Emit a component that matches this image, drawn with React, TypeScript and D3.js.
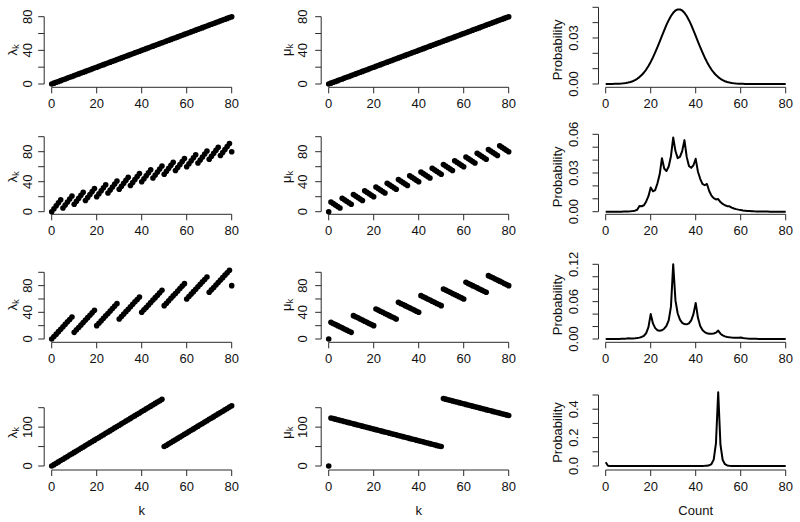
import React from 'react';
import * as d3 from 'd3';

// ---------- data ----------
const ks = [0,1,2,3,4,5,6,7,8,9,10,11,12,13,14,15,16,17,18,19,20,21,22,23,24,25,26,27,28,29,30,31,32,33,34,35,36,37,38,39,40,41,42,43,44,45,46,47,48,49,50,51,52,53,54,55,56,57,58,59,60,61,62,63,64,65,66,67,68,69,70,71,72,73,74,75,76,77,78,79,80];

const lam1 = [0,1,2,3,4,5,6,7,8,9,10,11,12,13,14,15,16,17,18,19,20,21,22,23,24,25,26,27,28,29,30,31,32,33,34,35,36,37,38,39,40,41,42,43,44,45,46,47,48,49,50,51,52,53,54,55,56,57,58,59,60,61,62,63,64,65,66,67,68,69,70,71,72,73,74,75,76,77,78,79,80];
const mu1 = [0,1,2,3,4,5,6,7,8,9,10,11,12,13,14,15,16,17,18,19,20,21,22,23,24,25,26,27,28,29,30,31,32,33,34,35,36,37,38,39,40,41,42,43,44,45,46,47,48,49,50,51,52,53,54,55,56,57,58,59,60,61,62,63,64,65,66,67,68,69,70,71,72,73,74,75,76,77,78,79,80];

const lam2 = [0,4,8,12,16, 5,9,13,17,21, 10,14,18,22,26, 15,19,23,27,31, 20,24,28,32,36, 25,29,33,37,41, 30,34,38,42,46, 35,39,43,47,51, 40,44,48,52,56, 45,49,53,57,61, 50,54,58,62,66, 55,59,63,67,71, 60,64,68,72,76, 65,69,73,77,81, 70,74,78,82,86, 75,79,83,87,91, 80];
const mu2 = [0, 13,11,9,7,5, 18,16,14,12,10, 23,21,19,17,15, 28,26,24,22,20, 33,31,29,27,25, 38,36,34,32,30, 43,41,39,37,35, 48,46,44,42,40, 53,51,49,47,45, 58,56,54,52,50, 63,61,59,57,55, 68,66,64,62,60, 73,71,69,67,65, 78,76,74,72,70, 83,81,79,77,75, 88,86,84,82,80];

const lam3 = [0,3.7,7.3,11,14.7,18.3,22,25.7,29.3,33, 10,13.7,17.3,21,24.7,28.3,32,35.7,39.3,43, 20,23.7,27.3,31,34.7,38.3,42,45.7,49.3,53, 30,33.7,37.3,41,44.7,48.3,52,55.7,59.3,63, 40,43.7,47.3,51,54.7,58.3,62,65.7,69.3,73, 50,53.7,57.3,61,64.7,68.3,72,75.7,79.3,83, 60,63.7,67.3,71,74.7,78.3,82,85.7,89.3,93, 70,73.7,77.3,81,84.7,88.3,92,95.7,99.3,103, 80];
const mu3 = [0, 25,23.3,21.7,20,18.3,16.7,15,13.3,11.7,10, 35,33.3,31.7,30,28.3,26.7,25,23.3,21.7,20, 45,43.3,41.7,40,38.3,36.7,35,33.3,31.7,30, 55,53.3,51.7,50,48.3,46.7,45,43.3,41.7,40, 65,63.3,61.7,60,58.3,56.7,55,53.3,51.7,50, 75,73.3,71.7,70,68.3,66.7,65,63.3,61.7,60, 85,83.3,81.7,80,78.3,76.7,75,73.3,71.7,70, 95,93.3,91.7,90,88.3,86.7,85,83.3,81.7,80];

const lam4 = [0,3.5,7,10.5,14,17.5,21,24.5,28,31.5,35,38.5,42,45.5,49,52.5,56,59.5,63,66.5,70,73.5,77,80.5,84,87.5,91,94.5,98,101.5,105,108.5,112,115.5,119,122.5,126,129.5,133,136.5,140,143.5,147,150.5,154,157.5,161,164.5,168,171.5, 50,53.5,57,60.5,64,67.5,71,74.5,78,81.5,85,88.5,92,95.5,99,102.5,106,109.5,113,116.5,120,123.5,127,130.5,134,137.5,141,144.5,148,151.5,155];
const mu4 = [0, 123.5,122,120.5,119,117.5,116,114.5,113,111.5,110, 108.5,107,105.5,104,102.5,101,99.5,98,96.5,95, 93.5,92,90.5,89,87.5,86,84.5,83,81.5,80, 78.5,77,75.5,74,72.5,71,69.5,68,66.5,65, 63.5,62,60.5,59,57.5,56,54.5,53,51.5,50, 173.5,172,170.5,169,167.5,166,164.5,163,161.5,160, 158.5,157,155.5,154,152.5,151,149.5,148,146.5,145, 143.5,142,140.5,139,137.5,136,134.5,133,131.5,130];

const counts = ks;
const prob1 = [0.00001,0.00002,0.00003,0.00005,0.00009,0.00013,0.0002,0.0003,0.00045,0.00065,0.00093,0.0013,0.0018,0.0025,0.0034,0.0045,0.0058,0.0075,0.0094,0.0117,0.0144,0.0173,0.0206,0.0241,0.0277,0.0314,0.035,0.0385,0.0416,0.0443,0.0464,0.0479,0.0486,0.0486,0.0479,0.0464,0.0443,0.0416,0.0385,0.035,0.0314,0.0277,0.0241,0.0206,0.0173,0.0144,0.0117,0.0094,0.0075,0.0058,0.0045,0.0034,0.0025,0.0018,0.0013,0.00093,0.00065,0.00045,0.0003,0.0002,0.00013,0.00009,0.00005,0.00003,0.00002,0.00001,0,0,0,0,0,0,0,0,0,0,0,0,0,0,0];
const prob2 = [0,0,0,0,0,0.00001,0.00002,0.00004,0.00007,0.0001,0.0002,0.0003,0.0005,0.0008,0.0015,0.0045,0.0042,0.005,0.008,0.012,0.0187,0.0158,0.0168,0.022,0.029,0.0415,0.0335,0.0315,0.035,0.043,0.0575,0.047,0.0415,0.0425,0.047,0.0555,0.0425,0.0355,0.034,0.036,0.041,0.031,0.0255,0.0215,0.0205,0.0215,0.016,0.0125,0.0105,0.0095,0.0098,0.0075,0.006,0.005,0.0043,0.0042,0.0032,0.0025,0.002,0.0016,0.0013,0.001,0.0008,0.0006,0.0005,0.0004,0.0003,0.00025,0.0002,0.00015,0.0001,0.00008,0.00006,0.00005,0.00004,0.00003,0.00002,0.00002,0.00001,0.00001,0.00001];
const prob3 = [0.0001,0.0001,0.0001,0.0001,0.0001,0.0002,0.0002,0.0003,0.0004,0.0006,0.0012,0.0008,0.0009,0.0012,0.0016,0.0022,0.0033,0.0052,0.0095,0.019,0.04,0.025,0.0175,0.014,0.0132,0.014,0.0165,0.021,0.03,0.052,0.12,0.062,0.041,0.031,0.026,0.024,0.0235,0.025,0.03,0.04,0.058,0.034,0.021,0.0145,0.011,0.0092,0.0084,0.0083,0.0088,0.0102,0.0135,0.0085,0.0058,0.0042,0.0033,0.0027,0.0023,0.0021,0.002,0.0021,0.0024,0.0015,0.001,0.0007,0.0005,0.0004,0.0003,0.00025,0.0002,0.0002,0.0002,0.00012,0.0001,0.00008,0.00006,0.00005,0.00004,0.00003,0.00003,0.00002,0.00002];
const prob4 = [0.026,0.002,0.0005,0.0003,0.0002,0.0002,0.0002,0.0001,0.0001,0.0001,0.0001,0.0001,0.0001,0.0001,0.0001,0.0001,0.0001,0.0001,0.0001,0.0001,0.0001,0.0001,0.0001,0.0001,0.0001,0.0001,0.0001,0.0001,0.0001,0.0001,0.0001,0.0001,0.0001,0.0001,0.0001,0.0001,0.0001,0.0001,0.0001,0.0001,0.0002,0.0002,0.0003,0.0005,0.001,0.002,0.005,0.014,0.045,0.16,0.52,0.15,0.042,0.013,0.004,0.0015,0.0005,0.0002,0.0001,0.0001,0.0001,0.0001,0.0001,0.0001,0.0001,0.0001,0.0001,0.0001,0.0001,0.0001,0.0001,0.0001,0.0001,0.0001,0.0001,0.0001,0.0001,0.0001,0.0001,0.0001,0.0001];

const xTicks = [0, 20, 40, 60, 80];
const rateTicks = [[0,20,40,60,80],[0,20,40,60,80,100],[0,20,40,60,80,100],[0,50,100,150]];
const rateLabels = [[0,40,80],[0,40,80],[0,40,80],[0,100]];
const probTicks = [[0,0.01,0.02,0.03,0.04,0.05],[0,0.01,0.02,0.03,0.04,0.05,0.06],[0,0.02,0.04,0.06,0.08,0.1,0.12],[0,0.1,0.2,0.3,0.4,0.5]];
const probLabels = [[0,0.03],[0,0.03,0.06],[0,0.06,0.12],[0,0.2,0.4]];
const probFormats = ['.2f','.2f','.2f','.1f'];

const lambdas = [lam1, lam2, lam3, lam4];
const mus = [mu1, mu2, mu3, mu4];
const probs = [prob1, prob2, prob3, prob4];

// ---------- layout ----------
const colX0 = [51.7, 328.7, 605.7];
const xSpan = 180;
const axisYs = [87.3, 214.3, 342.3, 470];
const rateYMap = [[84, 16.7], [211.7, 136.7], [339, 272.3], [466, 407.7]];
const probYMap = [[84, 7.3], [211.7, 134.3], [339, 264.3], [466, 395]];
const labelOffset = [12.5, 14, 21];
const FONT = "'Liberation Sans', Arial, Helvetica, sans-serif";
const AX = '#2a2a2a';

function Axes({ xs, ys, axisY, axisX, yTicks, yLabels, fmt, labOff, ytitle, ytitleX, xtitle }) {
  const titleY = axisY - 37.5;
  return (
    <g>
      <line x1={xs(0)} x2={xs(80)} y1={axisY} y2={axisY} stroke={AX} strokeWidth={1} />
      {xTicks.map(t => (
        <g key={'x' + t}>
          <line x1={xs(t)} x2={xs(t)} y1={axisY} y2={axisY + 6} stroke={AX} />
          <text x={xs(t)} y={axisY + 21} textAnchor="middle" fontSize={13} fill="#111">{t}</text>
        </g>
      ))}
      <line x1={axisX} x2={axisX} y1={ys(yTicks[0])} y2={ys(yTicks[yTicks.length - 1])} stroke={AX} />
      {yTicks.map(t => (
        <line key={'y' + t} x1={axisX - 6} x2={axisX} y1={ys(t)} y2={ys(t)} stroke={AX} />
      ))}
      {yLabels.map(t => (
        <text key={'yl' + t} transform={`translate(${axisX - labOff},${ys(t)}) rotate(-90)`} textAnchor="middle" fontSize={13} fill="#111">
          {fmt ? d3.format(fmt)(t) : t}
        </text>
      ))}
      <g transform={`translate(${ytitleX},${titleY}) rotate(-90)`}>{ytitle}</g>
      {xtitle ? <text x={(xs(0) + xs(80)) / 2} y={515} textAnchor="middle" fontSize={13} fill="#111">{xtitle}</text> : null}
    </g>
  );
}

export default function App() {
  const rows = [0, 1, 2, 3];
  return (
    <svg width={800} height={522} style={{ position: 'absolute', left: 0, top: 0, background: '#fff' }} fontFamily={FONT}>
      <rect width={800} height={522} fill="#fff" />
      {rows.map(r => {
        const axisY = axisYs[r];
        const rateY = d3.scaleLinear().domain([0, rateTicks[r][rateTicks[r].length - 1]]).range(rateYMap[r]);
        const probY = d3.scaleLinear().domain([0, probTicks[r][probTicks[r].length - 1]]).range(probYMap[r]);
        const xs = [0, 1, 2].map(c => d3.scaleLinear().domain([0, 80]).range([colX0[c], colX0[c] + xSpan]));
        const last = r === 3;
        const lam = lambdas[r];
        const mu = mus[r];
        const line = d3.line<number>().x((_, i) => xs[2](counts[i])).y(d => probY(d));
        return (
          <g key={r}>
            <Axes xs={xs[0]} ys={rateY} axisY={axisY} axisX={colX0[0] - 7.5} yTicks={rateTicks[r]} yLabels={rateLabels[r]} labOff={labelOffset[0]}
              ytitle={<text textAnchor="middle" fontSize={13} fill="#111" y={0}>λ<tspan fontSize={9.5} dy={2.5}>k</tspan></text>}
              ytitleX={16.5} xtitle={last ? 'k' : null} />
            {ks.map((k, i) => <circle key={'l' + i} cx={xs[0](k)} cy={rateY(lam[i])} r={2.8} fill="#000" />)}
            <Axes xs={xs[1]} ys={rateY} axisY={axisY} axisX={colX0[1] - 7.5} yTicks={rateTicks[r]} yLabels={rateLabels[r]} labOff={labelOffset[1]}
              ytitle={<text textAnchor="middle" fontSize={13} fill="#111" y={0}>μ<tspan fontSize={9.5} dy={2.5}>k</tspan></text>}
              ytitleX={290.5} xtitle={last ? 'k' : null} />
            {ks.map((k, i) => <circle key={'m' + i} cx={xs[1](k)} cy={rateY(mu[i])} r={2.8} fill="#000" />)}
            <Axes xs={xs[2]} ys={probY} axisY={axisY} axisX={colX0[2] - 7.2} yTicks={probTicks[r]} yLabels={probLabels[r]} fmt={probFormats[r]} labOff={labelOffset[2]}
              ytitle={<text textAnchor="middle" fontSize={13} fill="#111" y={0}>Probability</text>}
              ytitleX={562} xtitle={last ? 'Count' : null} />
            <path d={line(probs[r]) || ''} fill="none" stroke="#000" strokeWidth={2} strokeLinejoin="round" />
          </g>
        );
      })}
    </svg>
  );
}
